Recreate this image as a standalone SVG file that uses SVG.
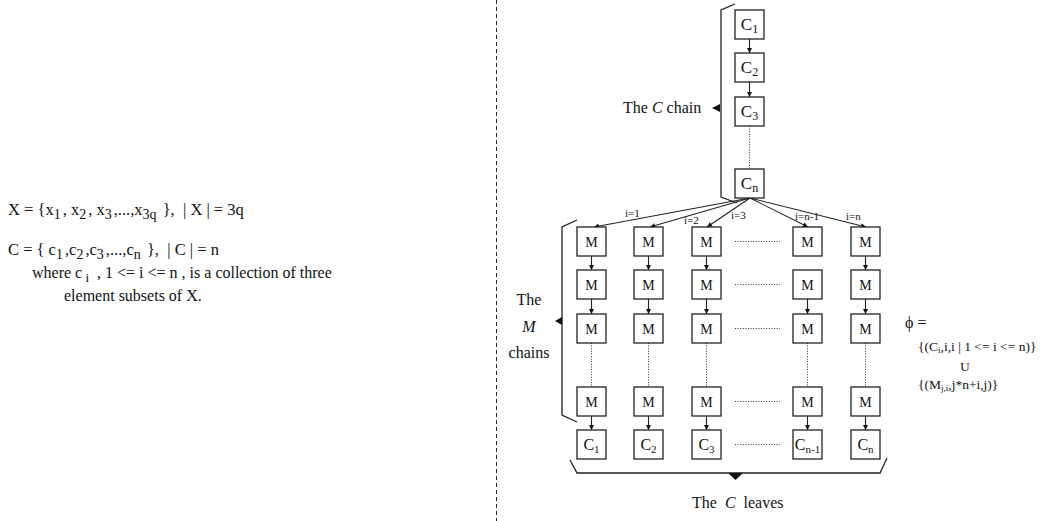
<svg xmlns="http://www.w3.org/2000/svg" width="1047" height="521" viewBox="0 0 1047 521">
  <style>
    text { font-family: "Liberation Serif", "Times New Roman", serif; fill: #111; }
    .box { fill: #fff; stroke: #222; stroke-width: 1.3; }
    .edge { stroke: #222; stroke-width: 1.1; fill: none; }
    .dot { stroke: #333; stroke-width: 1; stroke-dasharray: 1 1.6; fill: none; }
    .brace { stroke: #222; stroke-width: 1.3; fill: none; }
    .tri { fill: #111; }
    .sep { stroke: #222; stroke-width: 1; stroke-dasharray: 4 3; fill: none; }
    .ml { font-size: 14px; }
    .big { font-size: 17px; }
    .def { font-size: 16.5px; }
    .body { font-size: 16px; }
    .lbl { font-size: 16px; }
    .idx { font-size: 11px; }
    .phi { font-size: 13.5px; }
    .pre { white-space: pre; }
  </style>
  <defs>
    <marker id="ah" viewBox="0 0 10 10" refX="10" refY="5" markerWidth="6" markerHeight="5" markerUnits="userSpaceOnUse" orient="auto">
      <path d="M0,0 L10,5 L0,10 z" fill="#111"/>
    </marker>
  </defs>

  <!-- separator between the definitions and the graph -->
  <line class="sep" x1="496.5" y1="0" x2="496.5" y2="521"/>

  <!-- definitions -->
  <g id="definitions">
    <text class="def pre" x="8" y="215">X = {x<tspan font-size="14" dy="4">1</tspan><tspan dx="2" dy="-4">, x</tspan><tspan font-size="14" dy="4">2</tspan><tspan dx="2" dy="-4">, x</tspan><tspan font-size="14" dy="4">3</tspan><tspan dx="2" dy="-4">,...,x</tspan><tspan font-size="14" dy="4">3q</tspan><tspan dx="2" dy="-4"> },  | X | = 3q</tspan></text>
    <text class="def pre" x="8" y="255">C = { c<tspan font-size="14" dy="4">1</tspan><tspan dx="2" dy="-4">,c</tspan><tspan font-size="14" dy="4">2</tspan><tspan dx="2" dy="-4">,c</tspan><tspan font-size="14" dy="4">3</tspan><tspan dx="2" dy="-4">,...,c</tspan><tspan font-size="14" dy="4">n</tspan><tspan dx="2" dy="-4"> },  | C | = n</tspan></text>
    <text class="body pre" x="32" y="278">where c<tspan font-size="13" dy="4"> i</tspan><tspan dy="-4">  , 1 &lt;= i &lt;= n , is a collection of three</tspan></text>
    <text class="body" x="64" y="301">element subsets of X.</text>
  </g>

  <!-- connectors -->
  <g id="connectors">
    <!-- C chain -->
    <line class="edge" x1="749.5" y1="39" x2="749.5" y2="53" marker-end="url(#ah)"/>
    <line class="edge" x1="749.5" y1="82" x2="749.5" y2="97" marker-end="url(#ah)"/>
    <line class="dot" x1="749.5" y1="126" x2="749.5" y2="169"/>
    <!-- fan out from Cn to the first M of every chain -->
    <line class="edge" x1="750" y1="198" x2="594" y2="227" marker-end="url(#ah)"/>
    <line class="edge" x1="750" y1="198" x2="650" y2="227" marker-end="url(#ah)"/>
    <line class="edge" x1="750" y1="198" x2="707" y2="227" marker-end="url(#ah)"/>
    <line class="edge" x1="750" y1="198" x2="808" y2="227" marker-end="url(#ah)"/>
    <line class="edge" x1="750" y1="198" x2="866" y2="227" marker-end="url(#ah)"/>
    <!-- row 1 to row 2 -->
    <line class="edge" x1="591.5" y1="256" x2="591.5" y2="270" marker-end="url(#ah)"/>
    <line class="edge" x1="648.5" y1="256" x2="648.5" y2="270" marker-end="url(#ah)"/>
    <line class="edge" x1="706.5" y1="256" x2="706.5" y2="270" marker-end="url(#ah)"/>
    <line class="edge" x1="865.5" y1="256" x2="865.5" y2="270" marker-end="url(#ah)"/>
    <!-- row 2 to row 3 -->
    <line class="edge" x1="591.5" y1="299" x2="591.5" y2="314" marker-end="url(#ah)"/>
    <line class="edge" x1="648.5" y1="299" x2="648.5" y2="314" marker-end="url(#ah)"/>
    <line class="edge" x1="706.5" y1="299" x2="706.5" y2="314" marker-end="url(#ah)"/>
    <line class="edge" x1="807.5" y1="299" x2="807.5" y2="314" marker-end="url(#ah)"/>
    <line class="edge" x1="865.5" y1="299" x2="865.5" y2="314" marker-end="url(#ah)"/>
    <!-- elided rows -->
    <line class="dot" x1="591.5" y1="343" x2="591.5" y2="387"/>
    <line class="dot" x1="648.5" y1="343" x2="648.5" y2="387"/>
    <line class="dot" x1="706.5" y1="343" x2="706.5" y2="387"/>
    <line class="dot" x1="807.5" y1="343" x2="807.5" y2="387"/>
    <line class="dot" x1="865.5" y1="343" x2="865.5" y2="387"/>
    <!-- last M to leaf -->
    <line class="edge" x1="591.5" y1="416" x2="591.5" y2="430" marker-end="url(#ah)"/>
    <line class="edge" x1="648.5" y1="416" x2="648.5" y2="430" marker-end="url(#ah)"/>
    <line class="edge" x1="706.5" y1="416" x2="706.5" y2="430" marker-end="url(#ah)"/>
    <line class="edge" x1="807.5" y1="416" x2="807.5" y2="430" marker-end="url(#ah)"/>
    <line class="edge" x1="865.5" y1="416" x2="865.5" y2="430" marker-end="url(#ah)"/>
    <!-- elided columns -->
    <line class="dot" x1="735" y1="241.5" x2="780" y2="241.5"/>
    <line class="dot" x1="735" y1="284.5" x2="780" y2="284.5"/>
    <line class="dot" x1="735" y1="328.5" x2="780" y2="328.5"/>
    <line class="dot" x1="735" y1="401.5" x2="780" y2="401.5"/>
    <line class="dot" x1="735" y1="444.5" x2="780" y2="444.5"/>
  </g>

  <!-- edge labels -->
  <g id="edge-labels" class="idx">
    <text x="625" y="217">i=1</text>
    <text x="684" y="224">i=2</text>
    <text x="731" y="219">i=3</text>
    <text x="795" y="220">i=n-1</text>
    <text x="846" y="220">i=n</text>
  </g>

  <!-- C chain -->
  <g id="c1"><rect class="box" x="735" y="10" width="29" height="29"/><text class="big" x="749.5" y="30" text-anchor="middle">C<tspan font-size="12" dy="3">1</tspan></text></g>
  <g id="c2"><rect class="box" x="735" y="53" width="29" height="29"/><text class="big" x="749.5" y="73" text-anchor="middle">C<tspan font-size="12" dy="3">2</tspan></text></g>
  <g id="c3"><rect class="box" x="735" y="97" width="29" height="29"/><text class="big" x="749.5" y="117" text-anchor="middle">C<tspan font-size="12" dy="3">3</tspan></text></g>
  <g id="cn"><rect class="box" x="735" y="169" width="29" height="29"/><text class="big" x="749.5" y="189" text-anchor="middle">C<tspan font-size="12" dy="3">n</tspan></text></g>

  <!-- M chains: column 1 -->
  <g id="m-1-1"><rect class="box" x="577" y="227" width="29" height="29"/><text class="ml" x="591.5" y="246.5" text-anchor="middle">M</text></g>
  <g id="m-2-1"><rect class="box" x="577" y="270" width="29" height="29"/><text class="ml" x="591.5" y="289.5" text-anchor="middle">M</text></g>
  <g id="m-3-1"><rect class="box" x="577" y="314" width="29" height="29"/><text class="ml" x="591.5" y="333.5" text-anchor="middle">M</text></g>
  <g id="m-k-1"><rect class="box" x="577" y="387" width="29" height="29"/><text class="ml" x="591.5" y="406.5" text-anchor="middle">M</text></g>
  <!-- column 2 -->
  <g id="m-1-2"><rect class="box" x="634" y="227" width="29" height="29"/><text class="ml" x="648.5" y="246.5" text-anchor="middle">M</text></g>
  <g id="m-2-2"><rect class="box" x="634" y="270" width="29" height="29"/><text class="ml" x="648.5" y="289.5" text-anchor="middle">M</text></g>
  <g id="m-3-2"><rect class="box" x="634" y="314" width="29" height="29"/><text class="ml" x="648.5" y="333.5" text-anchor="middle">M</text></g>
  <g id="m-k-2"><rect class="box" x="634" y="387" width="29" height="29"/><text class="ml" x="648.5" y="406.5" text-anchor="middle">M</text></g>
  <!-- column 3 -->
  <g id="m-1-3"><rect class="box" x="692" y="227" width="29" height="29"/><text class="ml" x="706.5" y="246.5" text-anchor="middle">M</text></g>
  <g id="m-2-3"><rect class="box" x="692" y="270" width="29" height="29"/><text class="ml" x="706.5" y="289.5" text-anchor="middle">M</text></g>
  <g id="m-3-3"><rect class="box" x="692" y="314" width="29" height="29"/><text class="ml" x="706.5" y="333.5" text-anchor="middle">M</text></g>
  <g id="m-k-3"><rect class="box" x="692" y="387" width="29" height="29"/><text class="ml" x="706.5" y="406.5" text-anchor="middle">M</text></g>
  <!-- column n-1 -->
  <g id="m-1-n1"><rect class="box" x="793" y="227" width="29" height="29"/><text class="ml" x="807.5" y="246.5" text-anchor="middle">M</text></g>
  <g id="m-2-n1"><rect class="box" x="793" y="270" width="29" height="29"/><text class="ml" x="807.5" y="289.5" text-anchor="middle">M</text></g>
  <g id="m-3-n1"><rect class="box" x="793" y="314" width="29" height="29"/><text class="ml" x="807.5" y="333.5" text-anchor="middle">M</text></g>
  <g id="m-k-n1"><rect class="box" x="793" y="387" width="29" height="29"/><text class="ml" x="807.5" y="406.5" text-anchor="middle">M</text></g>
  <!-- column n -->
  <g id="m-1-n"><rect class="box" x="851" y="227" width="29" height="29"/><text class="ml" x="865.5" y="246.5" text-anchor="middle">M</text></g>
  <g id="m-2-n"><rect class="box" x="851" y="270" width="29" height="29"/><text class="ml" x="865.5" y="289.5" text-anchor="middle">M</text></g>
  <g id="m-3-n"><rect class="box" x="851" y="314" width="29" height="29"/><text class="ml" x="865.5" y="333.5" text-anchor="middle">M</text></g>
  <g id="m-k-n"><rect class="box" x="851" y="387" width="29" height="29"/><text class="ml" x="865.5" y="406.5" text-anchor="middle">M</text></g>

  <!-- C leaves -->
  <g id="leaf-1"><rect class="box" x="577" y="430" width="29" height="29"/><text class="lbl" x="591.5" y="450" text-anchor="middle">C<tspan font-size="11" dy="3">1</tspan></text></g>
  <g id="leaf-2"><rect class="box" x="634" y="430" width="29" height="29"/><text class="lbl" x="648.5" y="450" text-anchor="middle">C<tspan font-size="11" dy="3">2</tspan></text></g>
  <g id="leaf-3"><rect class="box" x="692" y="430" width="29" height="29"/><text class="lbl" x="706.5" y="450" text-anchor="middle">C<tspan font-size="11" dy="3">3</tspan></text></g>
  <g id="leaf-n1"><rect class="box" x="793" y="430" width="29" height="29"/><text class="lbl" x="807.5" y="450" text-anchor="middle">C<tspan font-size="11" dy="3">n-1</tspan></text></g>
  <g id="leaf-n"><rect class="box" x="851" y="430" width="29" height="29"/><text class="lbl" x="865.5" y="450" text-anchor="middle">C<tspan font-size="11" dy="3">n</tspan></text></g>

  <!-- braces with their captions -->
  <g id="c-chain-brace">
    <polyline class="brace" points="735,4 721,10 721,197 737,203"/>
    <polygon class="tri" points="712,108 720,104 720,112"/>
    <text class="lbl" x="623" y="113">The <tspan font-style="italic">C</tspan> chain</text>
  </g>
  <g id="m-chains-brace">
    <polyline class="brace" points="577,220 562,227 562,415 577,422"/>
    <polygon class="tri" points="555,321 562,317 562,325"/>
    <text class="lbl" x="529" y="305" text-anchor="middle">The</text>
    <text class="lbl" x="529" y="332" text-anchor="middle" font-style="italic">M</text>
    <text class="lbl" x="529" y="358" text-anchor="middle">chains</text>
  </g>
  <g id="c-leaves-brace">
    <polyline class="brace" points="570,460 577,473 880,473 887,458"/>
    <polygon class="tri" points="728,473 743,473 735.5,480"/>
    <text class="lbl pre" x="692" y="508">The  <tspan font-style="italic">C</tspan>  leaves</text>
  </g>

  <!-- labelling function -->
  <g id="phi">
    <text x="905" y="328" font-size="16">ϕ =</text>
    <text class="phi pre" x="918" y="351">{(C<tspan font-size="9" dy="2">i</tspan><tspan dy="-2">,i,i | 1 &lt;= i &lt;= n)}</tspan></text>
    <text class="phi" x="960" y="371">U</text>
    <text class="phi" x="918" y="389">{(M<tspan font-size="9" dy="2">j,i</tspan><tspan dy="-2">,j*n+i,j)}</tspan></text>
  </g>
</svg>
